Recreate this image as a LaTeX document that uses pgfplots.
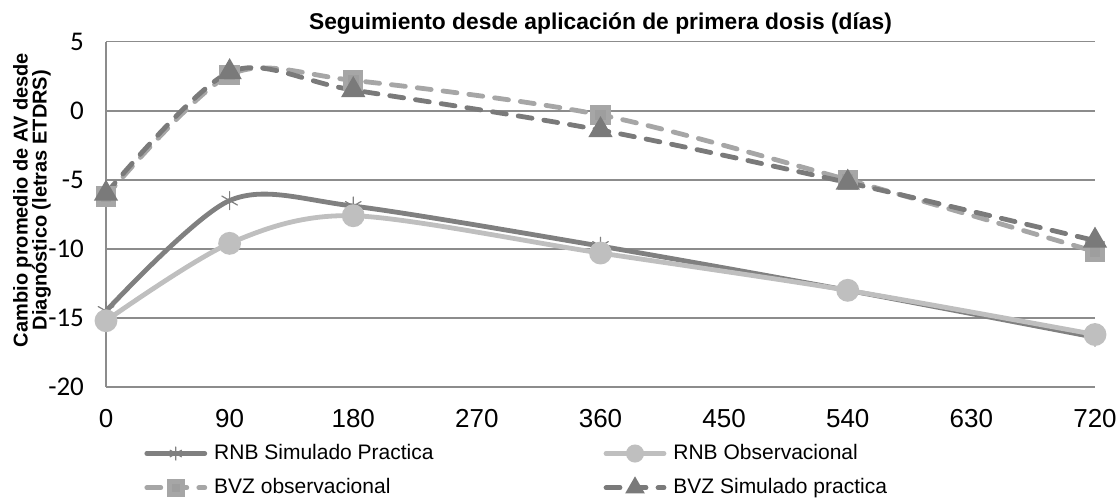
\documentclass[border=0pt]{standalone}
\usepackage{pgfplots}
\pgfplotsset{compat=1.18}
\usepackage{fontspec}
\setmainfont{Liberation Sans}
\newfontfamily\calibri{Carlito}

\definecolor{rnbsim}{HTML}{808080}
\definecolor{rnbobs}{HTML}{BFBFBF}
\definecolor{bvzobs}{HTML}{A6A6A6}
\definecolor{bvzobsmk}{HTML}{9E9E9E}
\definecolor{bvzsim}{HTML}{7A7A7A}
\definecolor{gridc}{HTML}{8C8C8C}

\begin{document}
\begin{tikzpicture}
% invisible frame fixing the page size (1 px = 0.5 pt)
\path[use as bounding box] (0,0) rectangle (558.5pt,250pt);
\begin{axis}[
  at={(53pt,56.5pt)}, anchor=south west,
  scale only axis,
  width=494.5pt, height=172.65pt,
  xmin=0, xmax=720, ymin=-20, ymax=5,
  xtick={0,90,...,720},
  ytick={-20,-15,...,5},
  major tick length=0pt,
  axis lines*=left,
  axis line style={draw=gridc, line width=0.75pt, -},
  ymajorgrids,
  grid style={draw=gridc, line width=0.75pt},
  clip=false,
  /pgf/number format/assume math mode=true,
  x tick label style={font=\fontsize{13}{15}\selectfont, yshift=-7.5pt},
  y tick label style={font=\calibri\fontsize{13.5}{15}\selectfont, xshift=-7.5pt},
  title={Seguimiento desde aplicación de primera dosis (días)},
  title style={font=\fontsize{11.4}{13}\selectfont\bfseries,
    at={(axis description cs:0.5,1)}, anchor=center, yshift=3pt},
  ylabel={Cambio promedio de AV desde\\Diagnóstico (letras ETDRS)},
  every axis y label/.style={
    at={([xshift=-37pt]axis description cs:0,0.5415)}, rotate=90,
    anchor=center, align=center,
    font=\fontsize{10}{9.6}\selectfont\bfseries},
  legend columns=2,
  legend cell align=left,
  legend style={draw=none, fill=none, font=\fontsize{10.5}{12}\selectfont,
    at={(axis description cs:0,0)}, anchor=north west,
    xshift=16pt, yshift=-25.5pt,
    nodes={inner sep=1pt}, row sep=6pt,
    /tikz/every odd column/.append style={column sep=2.5pt},
    /tikz/every even column/.append style={column sep=84pt}},
  legend image code/.code={
    \draw[mark repeat=2, mark phase=2, #1, mark size=3.3pt]
      plot coordinates {(0pt,0pt) (14.5pt,0pt) (29pt,0pt)};},
]
% RNB simulated practice
\addplot[smooth, color=rnbsim, line width=2.4pt, line cap=round,
  mark=asterisk, mark size=4.5pt,
  mark options={solid, line width=0.6pt, draw=rnbsim}]
  coordinates {(0,-14.5) (90,-6.5) (180,-6.9) (360,-9.8) (540,-13.0) (720,-16.4)};
\addlegendentry{RNB Simulado Practica}
% RNB observational
\addplot[smooth, color=rnbobs, line width=2.4pt, line cap=round,
  mark=*, mark size=4.5pt,
  mark options={solid, draw=none, fill=rnbobs}]
  coordinates {(0,-15.2) (90,-9.6) (180,-7.6) (360,-10.3) (540,-13.0) (720,-16.2)};
\addlegendentry{RNB Observacional}
% BVZ observational
\addplot[smooth, color=bvzobs, line width=2.4pt, line cap=round,
  dash pattern=on 7pt off 6pt,
  mark=square*, mark size=3.9pt,
  mark options={solid, draw=none, fill=bvzobsmk}]
  coordinates {(0,-6.2) (90,2.6) (180,2.2) (360,-0.3) (540,-5.0) (720,-10.2)};
\addlegendentry{BVZ observacional}
% BVZ simulated practice
\addplot[smooth, color=bvzsim, line width=2.4pt, line cap=round,
  dash pattern=on 7pt off 6pt,
  mark=triangle*, mark size=4.6pt,
  mark options={solid, draw=none, fill=bvzsim}]
  coordinates {(0,-6.0) (90,2.8) (180,1.5) (360,-1.4) (540,-5.2) (720,-9.4)};
\addlegendentry{BVZ Simulado practica}
\end{axis}
\end{tikzpicture}
\end{document}
